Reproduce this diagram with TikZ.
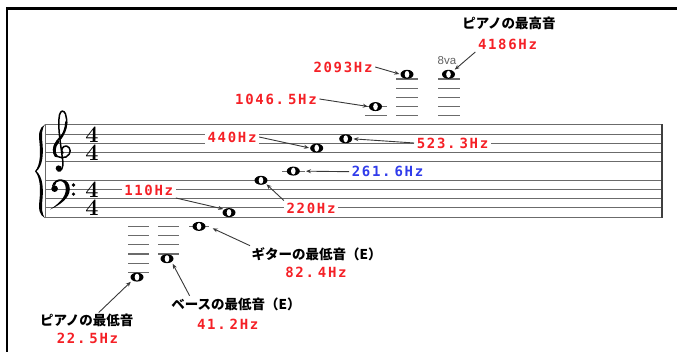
\documentclass[tikz,border=0pt]{standalone}
\usepackage{fontspec}
\usetikzlibrary{arrows.meta,shapes.geometric}
\newfontfamily\jpfont{Noto Sans CJK JP}
\newfontfamily\hzfont[LetterSpace=12]{DejaVu Sans Mono}
\newfontfamily\smallsans{Liberation Sans}
% gap after the decimal point
\newcommand\decgap{\hspace{4pt}}
\definecolor{hzred}{RGB}{245,32,38}
\definecolor{hzblue}{RGB}{48,60,235}
\tikzset{
  staff/.style={draw=black!58, line width=1pt},
  ledger/.style={draw=black!58, line width=1.1pt},
  hz/.style={font=\hzfont\bfseries\fontsize{14}{14}\selectfont, text=hzred, fill=white, inner sep=2.5pt},
  jp/.style={font=\jpfont\bfseries\fontsize{13.5}{14}\selectfont, inner sep=1.5pt},
  tsig/.style={font=\bfseries\fontsize{23.5}{18.45}\selectfont, inner sep=0pt, align=center},
  wnote/.style={ellipse, fill=black, minimum width=13pt, minimum height=9pt, inner sep=0pt,
    path picture={\fill[white, rotate around={-35:(path picture bounding box.center)}]
      (path picture bounding box.center) ellipse (2.3pt and 3.5pt);}},
  arr/.style={draw=black!78, line width=0.9pt, -{Stealth[length=5pt,width=4pt]}},
  clefline/.style={line width=1.5pt, line cap=round, line join=round}
}
\begin{document}
\begin{tikzpicture}[x=1pt,y=-1pt]
\useasboundingbox (0,0) rectangle (677,352);
% frame
\draw[line width=2.5pt] (6,8.5) -- (677,8.5);
\draw[line width=2pt] (7.3,7.5) -- (7.3,352);

% grand staff
\foreach \y in {125,134.2,143.4,152.7,161.9,180.3,189.5,198.8,208,217.2}
  \draw[staff] (45,\y) -- (662,\y);
\draw[staff] (45,125) -- (45,217.2);
\draw[line width=2.6pt, draw=black!75] (662,124.5) -- (662,217.7);

% brace
\fill (45,124.5) .. controls (39,128) and (38.5,133) .. (39.5,143)
  .. controls (40.5,153) and (40.5,165) .. (35,171.3)
  .. controls (40.5,177.6) and (40.5,189.6) .. (39.5,199.6)
  .. controls (38.5,209.6) and (39,214.6) .. (45,218.1)
  .. controls (42,214.6) and (41.5,208.6) .. (42.5,198.6)
  .. controls (43.5,187.6) and (42.5,176.6) .. (36.5,171.3)
  .. controls (42.5,166) and (43.5,155) .. (42.5,144)
  .. controls (41.5,134) and (42,128) .. (45,124.5) -- cycle;

% treble clef
\draw[clefline] (63,153) .. controls (60,150) and (63,145.5) .. (66.5,146)
  .. controls (71,147) and (72,154) .. (66,157)
  .. controls (60,159) and (53.5,156) .. (53.5,150)
  .. controls (53.5,143) and (60,138) .. (63,134)
  .. controls (67,128) and (67.5,120) .. (65.5,114)
  .. controls (64,110) and (60.5,110) .. (59.5,115)
  .. controls (58.5,120) and (58.5,128) .. (60,140)
  -- (62.8,161)
  .. controls (63.5,168) and (61,172) .. (58,171);
\draw[line width=2.8pt, line cap=round] (56,156) .. controls (53.5,153) and (53.5,146) .. (58,141.5);
\draw[line width=2.2pt, line cap=round] (60,139) .. controls (63,135) and (66,130) .. (66.2,122);
\fill (58.6,168.3) circle (2.9pt);

% bass clef
\fill (52,186) .. controls (53,181) and (58,179) .. (61,179.3)
  .. controls (67,179.5) and (69.8,184) .. (69.8,189)
  .. controls (69.8,198) and (60,205) .. (50,209.5)
  .. controls (58,204) and (65.8,198) .. (65.8,189)
  .. controls (65.8,184) and (63.5,181) .. (60,181)
  .. controls (57,181) and (55,183) .. (55,185.5) -- cycle;
\fill (54.6,188.7) circle (3.3pt);
\fill (73.5,185) circle (1.8pt) (73.5,194.1) circle (1.8pt);

% time signatures
\node[tsig] (ttreble) at (92,143.5) {4\\4};
\node[tsig] (tbass) at (92,198.8) {4\\4};

% ledger lines
\draw[ledger] (282,171.1) -- (305,171.1);
\foreach \y in {106.6,115.8} \draw[ledger] (365,\y) -- (387,\y);
\foreach \y in {79,88.2,97.4,106.6,115.8} {
  \draw[ledger] (396,\y) -- (418,\y);
  \draw[ledger] (438,\y) -- (460,\y);
}
\draw[ledger] (189,226.4) -- (209,226.4);
\foreach \y in {226.4,235.6,244.8,254} \draw[ledger] (158,\y) -- (179,\y);
\foreach \y in {226.4,235.6,244.8,254,263.2,272.4} \draw[ledger] (128,\y) -- (149,\y);

% whole notes
\node[wnote] (nA0) at (137,277.1) {};
\node[wnote] (nE1) at (167,258.7) {};
\node[wnote] (nE2) at (199,226.4) {};
\node[wnote] (nA2) at (229,212.6) {};
\node[wnote] (nA3) at (261,180.3) {};
\node[wnote] (nC4) at (293.3,171.1) {};
\node[wnote] (nA4) at (316.7,148.1) {};
\node[wnote] (nC5) at (345.7,138.8) {};
\node[wnote] (nC6) at (375.5,106.6) {};
\node[wnote] (nC7) at (407,74.3) {};
\node[wnote] (nC8) at (448.5,74.3) {};

% labels
\node[jp] (phigh) at (509,23) {ピアノの最高音};
\node[hz] (l4186) at (507.5,44) {4186Hz};
\node[font=\smallsans\fontsize{11.5}{12}\selectfont, text=black!62, inner sep=1pt] (ova) at (447,61) {8va};
\node[hz] (l2093) at (343,67) {2093Hz};
\node[hz] (l1046) at (276,99) {1046.\decgap5Hz};
\node[hz] (l440) at (232,137) {440Hz};
\node[hz] (l523) at (452.5,143) {523.\decgap3Hz};
\node[hz, text=hzblue] (l261) at (387.5,171.7) {261.\decgap6Hz};
\node[hz] (l220) at (311,208.5) {220Hz};
\node[hz] (l110) at (148.7,190) {110Hz};
\node[jp] (lgtr) at (316.7,254) {ギターの最低音（E）};
\node[hz] (l82) at (316,272) {82.\decgap4Hz};
\node[jp] (lbass) at (236,304) {ベースの最低音（E）};
\node[hz] (l41) at (227.7,324) {41.\decgap2Hz};
\node[jp] (plow) at (86.7,320.7) {ピアノの最低音};
\node[hz] (l22) at (87.5,338.7) {22.\decgap5Hz};

% arrows
\draw[arr, shorten >=2pt] (l4186.south west) -- (nC8.north east);
\draw[arr, shorten >=1pt] (l2093.east) -- (nC7.west);
\draw[arr, shorten >=1pt] (l1046.east) -- (nC6.west);
\draw[arr, shorten >=1pt] (l440.east) -- (nA4.west);
\draw[arr, shorten >=1pt] (l523.west) -- (nC5.east);
\draw[arr, shorten >=6pt] (l261.west) -- (nC4.east);
\draw[arr, shorten >=1pt] (l220.north west) -- (nA3.south east);
\draw[arr, shorten >=1pt] (l110.south east) -- (nA2.north west);
\draw[arr] (lgtr.north west) -- ([shift={(7,2)}]nE2.east);
\draw[arr, shorten >=2pt] ([xshift=20pt]lbass.north west) -- (nE1.south east);
\draw[arr, shorten >=2pt] ([xshift=12pt]plow.north) -- (nA0.south west);
\end{tikzpicture}
\end{document}
